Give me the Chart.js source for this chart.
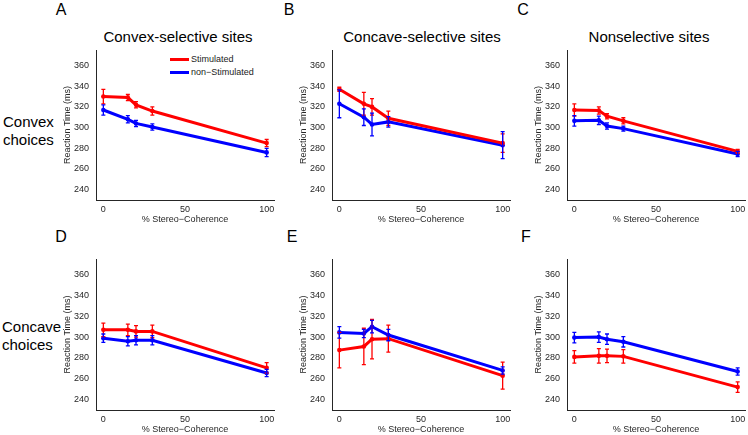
<!DOCTYPE html>
<html>
<head>
<meta charset="utf-8">
<script src="https://cdn.jsdelivr.net/npm/chart.js@4/dist/chart.umd.min.js"></script>
<style>
  body { margin:0; width:748px; height:435px; background:#fff; position:relative; overflow:hidden;
         font-family:"Liberation Sans", Arial, sans-serif; color:#000; }
  canvas { position:absolute; }
  .lbl { position:absolute; transform:translate(-50%,-50%); white-space:nowrap; }
  .letter { font-size:16px; }
  .ttl { font-size:15px; }
  .row { position:absolute; font-size:15px; line-height:17.6px; }
  .leg { position:absolute; font-size:9px; color:#222; }
  .leg span { display:inline-block; width:19px; height:3px; vertical-align:middle; margin-right:2px; }
</style>
</head>
<body>
<div class="lbl letter" style="left:61px;top:10px">A</div>
<div class="lbl letter" style="left:289px;top:10px">B</div>
<div class="lbl letter" style="left:523px;top:10px">C</div>
<div class="lbl letter" style="left:61px;top:237px">D</div>
<div class="lbl letter" style="left:292px;top:237px">E</div>
<div class="lbl letter" style="left:526px;top:237px">F</div>
<div class="lbl ttl" style="left:178px;top:36px">Convex-selective sites</div>
<div class="lbl ttl" style="left:422px;top:36px">Concave-selective sites</div>
<div class="lbl ttl" style="left:649px;top:36px">Nonselective sites</div>
<div class="row" style="left:3px;top:113px">Convex<br>choices</div>
<div class="row" style="left:2px;top:318px">Concave<br>choices</div>
<div class="leg" style="left:170px;top:54px"><span style="background:#f00"></span>Stimulated</div>
<div class="leg" style="left:170px;top:67px"><span style="background:#00f"></span>non−Stimulated</div>

<canvas id="cA"></canvas><canvas id="cB"></canvas><canvas id="cC"></canvas>
<canvas id="cD"></canvas><canvas id="cE"></canvas><canvas id="cF"></canvas>

<script>
const coherence = [0, 15, 20, 30, 100];
const xTicks = [0, 50, 100];
const yTicks = [240, 260, 280, 300, 320, 340, 360];

// A: convex-selective sites, convex choices
const stimA = [330, 329, 322, 316, 285];
const stimAErr = [7, 3, 3, 4, 3.5];
const nonA = [317, 308, 304, 300.5, 276];
const nonAErr = [5, 3.5, 3, 3, 4];
// B: concave-selective sites, convex choices
const stimB = [337, 323, 320, 309, 285];
const stimBErr = [2, 11, 8, 7, 9];
const nonB = [323, 310, 303, 305.5, 283];
const nonBErr = [13.5, 8, 11, 5, 13];
// C: nonselective sites, convex choices
const stimC = [317, 316.5, 311, 306.5, 277];
const stimCErr = [6, 3.5, 2.5, 3, 2];
const nonC = [306.5, 307, 301.5, 299, 274.5];
const nonCErr = [5, 4, 3, 2.5, 2.5];
// D: convex-selective sites, concave choices
const stimD = [307, 307, 305.5, 305.5, 270.5];
const stimDErr = [6.5, 5.5, 5.5, 6, 5];
const nonD = [299, 296, 297, 297, 265.5];
const nonDErr = [4, 4.5, 4.5, 4.5, 3.5];
// E: concave-selective sites, concave choices
const stimE = [287.5, 291, 298, 298.5, 263];
const stimEErr = [17, 17.5, 19, 13, 13];
const nonE = [304.5, 303.5, 310, 302, 268];
const nonEErr = [5.5, 4, 6, 5.5, 3.5];
// F: nonselective sites, concave choices
const stimF = [281, 282, 282, 281.5, 252];
const stimFErr = [6, 7, 6.5, 6.5, 5];
const nonF = [299.5, 300, 298, 295.5, 267];
const nonFErr = [5, 5, 5, 5, 3.5];

const FONT = '"Liberation Sans", Arial, sans-serif';
const AXIS = '#262626';

// plot-area boxes in page pixels
const panels = [
  { id:'cA', left:96,  right:274, top:50,  bottom:200, stim:stimA, stimErr:stimAErr, non:nonA, nonErr:nonAErr },
  { id:'cB', left:332, right:510, top:50,  bottom:200, stim:stimB, stimErr:stimBErr, non:nonB, nonErr:nonBErr },
  { id:'cC', left:567, right:745, top:50,  bottom:200, stim:stimC, stimErr:stimCErr, non:nonC, nonErr:nonCErr },
  { id:'cD', left:96,  right:274, top:259, bottom:410, stim:stimD, stimErr:stimDErr, non:nonD, nonErr:nonDErr },
  { id:'cE', left:332, right:510, top:259, bottom:410, stim:stimE, stimErr:stimEErr, non:nonE, nonErr:nonEErr },
  { id:'cF', left:567, right:745, top:259, bottom:410, stim:stimF, stimErr:stimFErr, non:nonF, nonErr:nonFErr }
];

// vertical error bars with small caps
const errorBars = {
  id: 'errorBars',
  afterDatasetsDraw(chart) {
    const { ctx, scales: { x, y } } = chart;
    chart.data.datasets.forEach(ds => {
      ctx.save();
      ctx.strokeStyle = ds.borderColor;
      ctx.lineWidth = 1.3;
      ds.data.forEach((p, j) => {
        const e = ds.errors[j];
        const px = x.getPixelForValue(p.x);
        const t = y.getPixelForValue(p.y + e), b = y.getPixelForValue(p.y - e);
        ctx.beginPath();
        ctx.moveTo(px, t); ctx.lineTo(px, b);
        ctx.moveTo(px - 2, t); ctx.lineTo(px + 2, t);
        ctx.moveTo(px - 2, b); ctx.lineTo(px + 2, b);
        ctx.stroke();
      });
      ctx.restore();
    });
  }
};

// PAD_T covers the y scale's own top padding (half label height + tick padding)
const Y_W = 45, X_H = 28, PAD_T = 13, PAD_R = 8;

function series(vals, errs, color) {
  return {
    data: coherence.map((c, i) => ({ x: c, y: vals[i] })),
    errors: errs,
    borderColor: color, backgroundColor: color,
    borderWidth: 3, pointRadius: 2.3, pointBorderWidth: 0,
    tension: 0, fill: false
  };
}

panels.forEach(p => {
  const cv = document.getElementById(p.id);
  const w = p.right - p.left + Y_W + PAD_R;
  const h = p.bottom - p.top + PAD_T + X_H;
  cv.width = w; cv.height = h;
  cv.style.left = (p.left - Y_W) + 'px';
  cv.style.top = (p.top - PAD_T) + 'px';
  cv.style.width = w + 'px'; cv.style.height = h + 'px';

  new Chart(cv.getContext('2d'), {
    type: 'line',
    data: { datasets: [ series(p.stim, p.stimErr, '#ff0000'), series(p.non, p.nonErr, '#0000ff') ] },
    options: {
      responsive: false, animation: false,
      layout: { padding: { left: 0, top: PAD_T, right: PAD_R, bottom: 0 } },
      plugins: { legend: { display: false }, tooltip: { enabled: false } },
      scales: {
        x: {
          type: 'linear', min: -4.5, max: 104.5,
          afterBuildTicks: s => { s.ticks = xTicks.map(v => ({ value: v })); },
          afterFit: s => { s.height = X_H; },
          grid: { display: false, drawTicks: false },
          border: { display: true, color: AXIS, width: 1 },
          ticks: { font: { size: 9, family: FONT }, color: AXIS, padding: 4, maxRotation: 0 },
          title: { display: true, text: '% Stereo−Coherence', color: AXIS,
                   font: { size: 9, family: FONT }, padding: { top: 0, bottom: 2.6 } }
        },
        y: {
          min: 230, max: 375,
          afterBuildTicks: s => { s.ticks = yTicks.map(v => ({ value: v })); },
          afterFit: s => { s.width = Y_W; },
          grid: { display: false, drawTicks: false },
          border: { display: true, color: AXIS, width: 1 },
          ticks: { font: { size: 9, family: FONT }, color: AXIS, padding: 7 },
          title: { display: true, text: 'Reaction Time (ms)', color: AXIS,
                   font: { size: 9, family: FONT }, padding: { top: 11.6, bottom: 0 } }
        }
      }
    },
    plugins: [errorBars]
  });
});
</script>
</body>
</html>
